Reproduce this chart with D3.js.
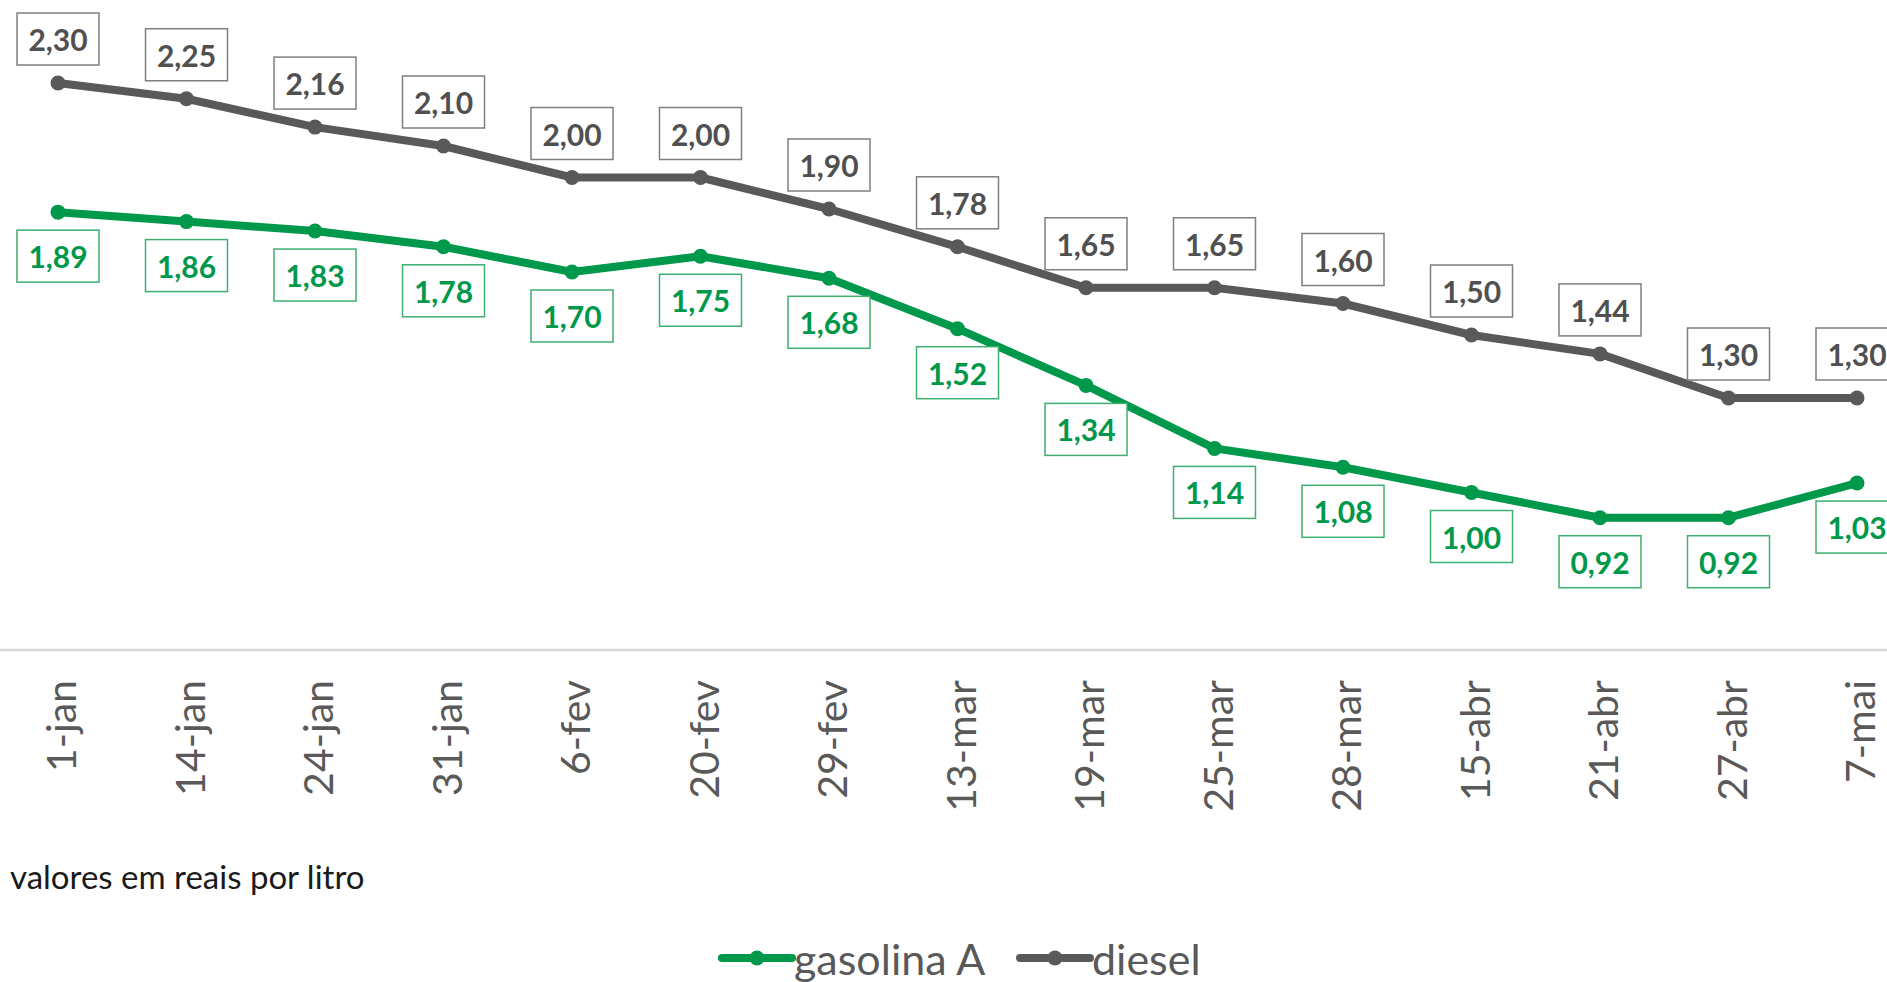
<!DOCTYPE html>
<html>
<head>
<meta charset="utf-8">
<script src="https://cdn.jsdelivr.net/npm/d3@7"></script>
<style>
  html, body { margin: 0; padding: 0; background: #fff; }
  svg { display: block; }
</style>
</head>
<body>
<div id="chart"></div>
<script>
var categories = ['1-jan','14-jan','24-jan','31-jan','6-fev','20-fev','29-fev','13-mar','19-mar','25-mar','28-mar','15-abr','21-abr','27-abr','7-mai'];
var gasolina = [1.89,1.86,1.83,1.78,1.70,1.75,1.68,1.52,1.34,1.14,1.08,1.00,0.92,0.92,1.03];
var diesel = [2.30,2.25,2.16,2.10,2.00,2.00,1.90,1.78,1.65,1.65,1.60,1.50,1.44,1.30,1.30];
var seriesNames = ['gasolina A','diesel'];
var note = 'valores em reais por litro';

var W = 1887, H = 982;
var font = "Lato, 'Open Sans', sans-serif";

var svg = d3.select('#chart').append('svg')
  .attr('width', W)
  .attr('height', H);

var x = d3.scalePoint().domain(categories).range([58, 1857]);
var y = d3.scaleLinear().domain([0.5, 2.5]).range([650, 20]);

var series = [
  { name: seriesNames[0], values: gasolina, line: '#00984a', box: '#3daf6f', text: '#00984a', dy: 44 },
  { name: seriesNames[1], values: diesel, line: '#595959', box: '#7f7f7f', text: '#505050', dy: -44 }
];

// category axis
var xAxis = svg.append('g')
  .attr('transform', 'translate(0,650)')
  .call(d3.axisBottom(x).tickSize(0).tickPadding(0));
xAxis.select('.domain').remove();
xAxis.selectAll('text')
  .attr('font-family', font)
  .attr('font-size', '41px')
  .attr('fill', '#595959')
  .attr('text-anchor', 'end')
  .attr('dy', null)
  .attr('dominant-baseline', 'central')
  .attr('transform', 'translate(2,30) rotate(-90)');

svg.append('line')
  .attr('x1', 0).attr('x2', W)
  .attr('y1', 650).attr('y2', 650)
  .attr('stroke', '#d9d9d9')
  .attr('stroke-width', 2.5);

var line = d3.line()
  .x(function(d, i) { return x(categories[i]); })
  .y(function(d) { return y(d); });

series.forEach(function(s) {
  svg.append('path')
    .datum(s.values)
    .attr('d', line)
    .attr('fill', 'none')
    .attr('stroke', s.line)
    .attr('stroke-width', 8)
    .attr('stroke-linejoin', 'round');

  svg.selectAll(null).data(s.values).enter()
    .append('circle')
    .attr('cx', function(d, i) { return x(categories[i]); })
    .attr('cy', function(d) { return y(d); })
    .attr('r', 7.5)
    .attr('fill', s.line);

  var lab = svg.selectAll(null).data(s.values).enter()
    .append('g')
    .attr('transform', function(d, i) {
      return 'translate(' + x(categories[i]) + ',' + (y(d) + s.dy) + ')';
    });
  lab.append('rect')
    .attr('x', -41).attr('y', -26)
    .attr('width', 82).attr('height', 52)
    .attr('fill', '#fff')
    .attr('stroke', s.box)
    .attr('stroke-width', 1.5);
  lab.append('text')
    .attr('text-anchor', 'middle')
    .attr('dominant-baseline', 'central')
    .attr('font-family', font)
    .attr('font-weight', 'bold')
    .attr('font-size', '30px')
    .attr('fill', s.text)
    .text(function(d) { return d3.format('.2f')(d).replace('.', ','); });
});

svg.append('text')
  .attr('x', 10).attr('y', 876)
  .attr('dominant-baseline', 'central')
  .attr('font-family', font)
  .attr('font-size', '33px')
  .attr('fill', '#1a1a1a')
  .text(note);

// legend
var legendX = [722, 1020];
series.forEach(function(s, i) {
  var g = svg.append('g').attr('transform', 'translate(' + legendX[i] + ',958)');
  g.append('line')
    .attr('x1', 0).attr('x2', 70)
    .attr('stroke', s.line)
    .attr('stroke-width', 8)
    .attr('stroke-linecap', 'round');
  g.append('circle').attr('cx', 35).attr('r', 7.5).attr('fill', s.line);
  g.append('text')
    .attr('x', 72)
    .attr('dominant-baseline', 'central')
    .attr('font-family', font)
    .attr('font-size', '43px')
    .attr('fill', '#595959')
    .text(s.name);
});
</script>
</body>
</html>
